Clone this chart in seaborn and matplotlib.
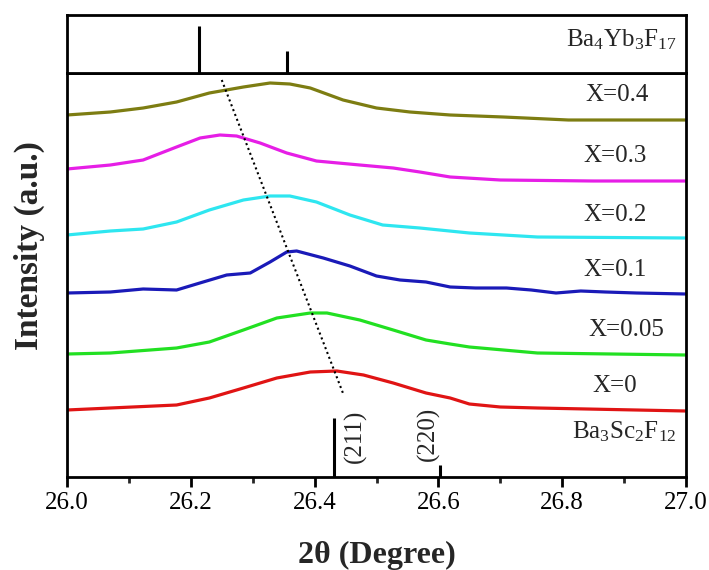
import matplotlib
matplotlib.use("Agg")
import matplotlib.pyplot as plt
import seaborn as sns
import pandas as pd
from matplotlib.ticker import MultipleLocator

# ---------------- data ----------------
x_04 = [26.00, 26.07, 26.123, 26.177, 26.23, 26.285, 26.328, 26.36, 26.393, 26.446, 26.50, 26.554, 26.619, 26.705, 26.81, 26.90, 27.00]
y_04 = [362, 365, 369, 375, 384, 390, 394, 393, 389, 377, 369, 365, 362, 360, 357, 357, 357]

x_03 = [26.00, 26.07, 26.123, 26.177, 26.215, 26.247, 26.274, 26.312, 26.355, 26.403, 26.473, 26.527, 26.57, 26.619, 26.70, 26.85, 27.00]
y_03 = [308, 312, 317, 330, 339, 342, 341, 334, 324, 316, 312, 309, 305, 300, 297, 296, 296]

x_02 = [26.00, 26.07, 26.123, 26.177, 26.23, 26.285, 26.328, 26.36, 26.403, 26.457, 26.51, 26.57, 26.65, 26.76, 27.00]
y_02 = [242, 246, 248, 255, 267, 277, 281, 281, 275, 262, 252, 249, 244, 240, 239]

x_01 = [26.00, 26.07, 26.123, 26.177, 26.22, 26.258, 26.296, 26.328, 26.355, 26.371, 26.414, 26.457, 26.50, 26.538, 26.58, 26.619, 26.66, 26.71, 26.75, 26.79, 26.83, 26.87, 26.92, 27.00]
y_01 = [184, 185, 188, 187, 195, 202, 204, 215, 225, 226, 219, 211, 201, 197, 195, 190, 189, 189, 187, 184, 186, 185, 184, 183]

x_005 = [26.00, 26.07, 26.177, 26.23, 26.285, 26.339, 26.393, 26.42, 26.473, 26.527, 26.58, 26.619, 26.65, 26.76, 27.00]
y_005 = [123, 124, 129, 135, 147, 159, 164, 164, 157, 147, 137, 133, 130, 124, 122]

x_0 = [26.00, 26.07, 26.177, 26.23, 26.285, 26.339, 26.393, 26.436, 26.479, 26.527, 26.58, 26.619, 26.65, 26.70, 26.76, 27.00]
y_0 = [67, 69, 72, 79, 89, 99, 105, 106, 102, 94, 84, 79, 73, 70, 69, 66]

series_labels = ["X=0.4", "X=0.3", "X=0.2", "X=0.1", "X=0.05", "X=0"]
series_colors = ["#7d7d12", "#e61ee6", "#2ee6f0", "#1a1ab8", "#22e022", "#e01414"]

# reference peaks
ref_top_pos = [26.213, 26.356]
ref_top_int = [47, 22]
ref_top_name = r"Ba$_{4}$Yb$_{3}$F$_{17}$"

ref_bot_pos = [26.431, 26.602]
ref_bot_int = [59, 12]
ref_bot_hkl = ["(211)", "(220)"]
ref_bot_name = r"Ba$_{3}$Sc$_{2}$F$_{12}$"

shift_x = [26.25, 26.447]
shift_y = [397, 82]

xticks = [26.0, 26.2, 26.4, 26.6, 26.8, 27.0]

# ---------------- style ----------------
sns.set_theme(style="ticks")
SERIF = ["Liberation Serif", "DejaVu Serif"]
plt.rcParams["font.family"] = SERIF
plt.rcParams["mathtext.fontset"] = "custom"
plt.rcParams["mathtext.rm"] = "Liberation Serif"
plt.rcParams["mathtext.it"] = "Liberation Serif:italic"
plt.rcParams["mathtext.bf"] = "Liberation Serif:bold"

W, H = 709, 570
fig = plt.figure(figsize=(W / 100, H / 100), dpi=100)
L, R = 67, 686
ax = fig.add_axes([L / W, (H - 477) / H, (R - L) / W, 404 / H])
axt = fig.add_axes([L / W, (H - 73) / H, (R - L) / W, 58 / H], sharex=ax)

xs = [x_04, x_03, x_02, x_01, x_005, x_0]
ys = [y_04, y_03, y_02, y_01, y_005, y_0]
frames = []
for lab, xv, yv in zip(series_labels, xs, ys):
    frames.append(pd.DataFrame({"2theta": xv, "I": yv, "s": lab}))
df = pd.concat(frames, ignore_index=True)
sns.lineplot(data=df, x="2theta", y="I", hue="s", palette=dict(zip(series_labels, series_colors)),
             hue_order=series_labels, linewidth=2.3, ax=ax, legend=False, sort=False,
             estimator=None)
for ln in ax.get_lines():
    ln.set_solid_joinstyle("round")
    ln.set_solid_capstyle("round")

# reference sticks
ax.vlines(ref_bot_pos, 0, ref_bot_int, color="black", linewidth=2.2)
axt.vlines(ref_top_pos, 0, ref_top_int, color="black", linewidth=2.2)

# peak-shift guide
ax.plot(shift_x, shift_y, linestyle=(0, (1, 1.5)), color="black", linewidth=1.5)

# labels
fs = 18
lab_pos = [(26.888, 382), (26.885, 321), (26.885, 262), (26.885, 207), (26.904, 147), (26.885, 91)]
for (px, py), lab in zip(lab_pos, series_labels):
    ax.text(px, py, lab, ha="center", va="center", fontsize=fs, family=SERIF)
ax.text(26.985, 45, ref_bot_name, ha="right", va="center", fontsize=fs, family=SERIF)
ax.text(26.466, 41, ref_bot_hkl[0], ha="center", va="center", rotation=90, fontsize=fs, family=SERIF)
ax.text(26.584, 43, ref_bot_hkl[1], ha="center", va="center", rotation=90, fontsize=fs, family=SERIF)
axt.text(26.985, 33, ref_top_name, ha="right", va="center", fontsize=fs, family=SERIF)

# axes
ax.set_xlim(26.0, 27.0)
ax.set_ylim(0, 404)
axt.set_ylim(0, 58)
ax.set_xticks(xticks)
ax.set_xticklabels([f"{t:.1f}" for t in xticks], fontfamily=SERIF, fontsize=fs)
ax.xaxis.set_minor_locator(MultipleLocator(0.1))
ax.set_yticks([])
axt.set_yticks([])
axt.tick_params(axis="x", which="both", bottom=False, labelbottom=False)
ax.tick_params(axis="x", which="major", direction="out", length=7, width=2, labelsize=fs, pad=4, colors="black")
ax.tick_params(axis="x", which="minor", direction="out", length=4.5, width=2)
for lbl in ax.get_xticklabels():
    lbl.set_fontfamily(SERIF)

for a in (ax, axt):
    for s in a.spines.values():
        s.set_visible(True)
        s.set_linewidth(2)
        s.set_color("black")

ax.set_xlabel("2θ (Degree)", fontsize=23, fontweight="bold", family=SERIF)
ax.xaxis.set_label_coords(0.5, -0.158)
ax.set_ylabel("Intensity (a.u.)", fontsize=24, fontweight="bold", family=SERIF)
ax.yaxis.set_label_coords(-0.035, 0.574)

fig.savefig("out.png", dpi=100)
